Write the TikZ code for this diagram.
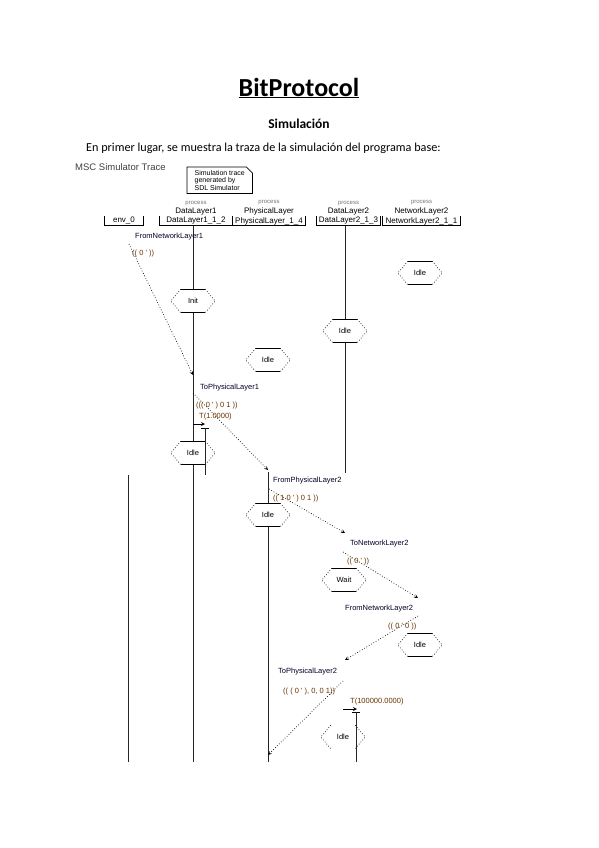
\documentclass[tikz,border=0pt]{standalone}
\usepackage{fontspec}
\setmainfont{Carlito}
\newfontfamily\mscfont{Liberation Sans}
\usetikzlibrary{arrows, calc, positioning}

\tikzset{
  lifeline/.style={draw=black!85, line width=0.8pt},
  msg/.style={dotted, line width=0.7pt, ->, >=stealth},
  lbl/.style={anchor=west, inner sep=0pt, font=\mscfont\fontsize{7.5}{8}\selectfont, text=black!85!blue},
  param/.style={lbl, text=black!60!orange},
  headbox/.style={minimum width=#1, minimum height=9pt, inner sep=0pt, font=\mscfont\fontsize{8}{9}\selectfont},
  hname/.style={inner sep=0pt, font=\mscfont\fontsize{8}{9}\selectfont},
  proc/.style={inner sep=0pt, font=\mscfont\fontsize{6}{7}\selectfont, text=black!55},
  cond/.style={minimum width=44pt, minimum height=23pt, inner sep=0pt, font=\mscfont\fontsize{7.5}{8}\selectfont}
}

\begin{document}
\begin{tikzpicture}[x=1pt, y=-1pt]
\useasboundingbox (0,0) rectangle (599,848);

% page text
\node[font=\fontsize{26}{30}\selectfont\bfseries] (title) at (299,88) {\underline{BitProtocol}};
\node[font=\fontsize{13.5}{16}\selectfont\bfseries] (sub) at (299,124) {Simulación};
\node[anchor=west, inner sep=0pt, font=\fontsize{12.2}{14}\selectfont] (intro) at (86,148)
  {En primer lugar, se muestra la traza de la simulación del programa base:};

% trace header
\node[anchor=west, inner sep=0pt, font=\mscfont\fontsize{9.5}{10}\selectfont, text=black!75] (msc) at (75,167) {MSC Simulator Trace};
\node[anchor=north west, minimum width=65pt, minimum height=26pt, inner xsep=2pt, inner ysep=1.5pt,
      align=left, font=\mscfont\fontsize{7}{7.6}\selectfont] (note) at (187,167)
  {Simulation trace\\generated by\\SDL Simulator};
\draw[line width=0.8pt] (note.north west) -- ($(note.north east)+(-6,0)$) -- ($(note.north east)+(0,6)$)
  -- (note.south east) -- (note.south west) -- cycle;

\node[headbox=38pt] (env) at (124,221) {env\_0};
\node[headbox=72pt] (dl1) at (196,221) {DataLayer1\_1\_2};
\node[headbox=72pt] (pl) at (269,221) {PhysicalLayer\_1\_4};
\node[headbox=63pt] (dl2) at (348.5,221) {DataLayer2\_1\_3};
\node[headbox=77pt] (nl2) at (421.5,221) {NetworkLayer2\_1\_1};
\foreach \h in {env,dl1,pl,dl2,nl2}
  \draw[line width=0.8pt] (\h.north west) -- (\h.south west) -- (\h.south east) -- (\h.north east);

\node[hname, above=1pt of dl1] (dl1n) {DataLayer1};
\node[hname, above=1pt of pl] (pln) {PhysicalLayer};
\node[hname, above=1pt of dl2] (dl2n) {DataLayer2};
\node[hname, above=1pt of nl2] (nl2n) {NetworkLayer2};
\foreach \h in {dl1n,pln,dl2n,nl2n}
  \node[proc, above=2pt of \h] {process};

% conditions
\node[cond] (idleNL) at (420,273) {Idle};
\node[cond] (idleDLb) at (345,331) {Idle};
\node[cond] (init) at (193,301) {Init};
\node[cond] (idleFree) at (268,360) {Idle};
\node[cond] (idleDLa) at (193,453) {Idle};
\node[cond] (idlePL) at (268,515) {Idle};
\node[cond] (waitDL) at (344,580) {Wait};
\node[cond] (idleNLb) at (420,645) {Idle};
\node[cond] (idleLast) at (343,737) {Idle};
\foreach \c in {idleNL,idleDLb,init,idleFree,idleDLa,idlePL,waitDL,idleNLb}
  \draw[line width=0.8pt] ($(\c.north west)+(10,0)$) -- ($(\c.north east)+(-10,0)$)
    ($(\c.south west)+(10,0)$) -- ($(\c.south east)+(-10,0)$);
\foreach \c in {idleNL,idleDLb,init,idleFree,idleDLa,idlePL,waitDL,idleNLb,idleLast}
  \draw[dotted, line width=0.7pt] ($(\c.north west)+(10,0)$) -- (\c.west) -- ($(\c.south west)+(10,0)$)
    ($(\c.north east)+(-10,0)$) -- (\c.east) -- ($(\c.south east)+(-10,0)$);

% lifelines
\coordinate (dl1top) at (193,225.5);
\coordinate (dl1end) at (193,762);
\coordinate (dl2top) at (345,225.5);
\coordinate (dl2end) at (345,473);
\coordinate (envtop) at (128,475);
\coordinate (envend) at (128,762);
\coordinate (pltop) at (268,472);
\coordinate (plend) at (268,762);
\draw[lifeline] (dl1top) -- (init.north) (init.south) -- (idleDLa.north) (idleDLa.south) -- (dl1end);
\draw[lifeline] (dl2top) -- (idleDLb.north) (idleDLb.south) -- (dl2end);
\draw[lifeline] (envtop) -- (envend);
\draw[lifeline] (pltop) -- (idlePL.north) (idlePL.south) -- (plend);

% messages
\coordinate (m1a) at (129,244);  \coordinate (m1b) at (193,375);
\coordinate (m2a) at (193,393);  \coordinate (m2b) at (268,470);
\coordinate (m3a) at (269,489);  \coordinate (m3b) at (345,533);
\coordinate (m4a) at (343,552);  \coordinate (m4b) at (418,598);
\coordinate (m5a) at (418,616);  \coordinate (m5b) at (345,660);
\coordinate (m6a) at (343,681);  \coordinate (m6b) at (268,755);
\foreach \m in {m1,m2,m3,m4,m5,m6}
  \draw[msg] (\m a) -- (\m b);

\node[lbl] (l1) at (135,237) {FromNetworkLayer1};
\node[param] (p1) at (132,254) {(( 0 ' ))};
\node[lbl] (l2) at (200,388) {ToPhysicalLayer1};
\node[param] (p2) at (196,406) {((( 0 ' ) 0 1 ))};
\node[lbl] (l3) at (273,481) {FromPhysicalLayer2};
\node[param] (p3) at (273,499) {(( 1 0 ' ) 0 1 ))};
\node[lbl] (l4) at (350,544) {ToNetworkLayer2};
\node[param] (p4) at (347,562) {(( 0 ' ))};
\node[lbl] (l5) at (345,609) {FromNetworkLayer2};
\node[param] (p5) at (388,627) {(( 0 ' 0 ))};
\node[lbl] (l6) at (278,672) {ToPhysicalLayer2};
\node[param] (p6) at (283,692) {(( ( 0 ' ), 0, 0 1))};

% timers
\node[param] (tl1) at (199,417) {T(1.0000)};
\node[param] (tl2) at (350,702) {T(100000.0000)};
\coordinate (t1a) at (193,424);  \coordinate (t1b) at (205,424);
\coordinate (t1top) at (205,428); \coordinate (t1end) at (205,475);
\coordinate (t2a) at (343,709);  \coordinate (t2b) at (357,709);
\coordinate (t2top) at (356,712); \coordinate (t2end) at (356,762);
\draw[line width=0.8pt, ->, >=stealth] (t1a) -- (t1b);
\draw[line width=0.8pt, ->, >=stealth] (t2a) -- (t2b);
\draw[line width=0.8pt] ($(t1top)+(-4,0)$) -- ($(t1top)+(4,0)$) ($(t2top)+(-4,0)$) -- ($(t2top)+(4,0)$);
\draw[lifeline] (t1top) -- (t1end) (t2top) -- (t2end);
\end{tikzpicture}
\end{document}
